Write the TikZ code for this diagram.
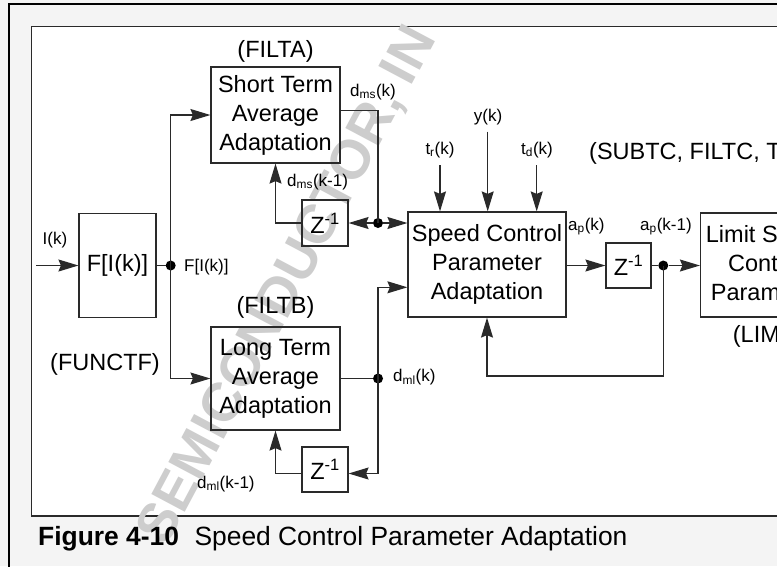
\documentclass[tikz,border=0pt]{standalone}
\usepackage{fontspec}
\setmainfont{Liberation Sans}
\usetikzlibrary{arrows.meta}
\definecolor{lncol}{HTML}{2A2A2A}
\definecolor{bgcol}{HTML}{F4F4F4}
\definecolor{wmcol}{HTML}{CDCDCD}
\begin{document}
\begin{tikzpicture}[x=1pt,y=-1pt,
  ln/.style={draw=lncol,line width=1.2pt},
  arr/.style={ln,-{Stealth[length=20pt,width=12pt,inset=2.5pt]}},
  blk/.style={draw=lncol,line width=1.2pt,inner sep=0pt,align=center,
    font=\fontsize{23.5}{29}\selectfont},
  big/.style={inner sep=0pt,font=\fontsize{23.5}{29}\selectfont},
  lbl/.style={inner sep=0pt,font=\fontsize{17}{20}\selectfont},
  dot/.style={circle,fill=black,inner sep=0pt,minimum size=10pt}]
\useasboundingbox (0,0) rectangle (777,566);
\clip (0,0) rectangle (777,566);
% background and frames
\fill[bgcol] (0,0) rectangle (777,566);
\draw[black,line width=2pt] (9,600) -- (9,3.7) -- (800,3.7);
\draw[draw=lncol,line width=1.4pt,fill=white] (31.5,26.7) rectangle (800,516);
% watermark
\node[rotate=62,text=wmcol,anchor=base west,inner sep=0pt,
  font=\fontsize{55}{55}\selectfont\bfseries] (wm) at (166,548) {SEMICONDUCTOR, IN};
% blocks
\node[blk,minimum width=77pt,minimum height=104pt] (F) at (117.5,265.5) {F[I(k)]};
\node[blk,minimum width=129pt,minimum height=96pt] (A) at (275.5,115) {Short Term\\Average\\Adaptation};
\node[blk,minimum width=129pt,minimum height=103pt] (B) at (275.5,378.5) {Long Term\\Average\\Adaptation};
\node[blk,minimum width=46pt,minimum height=46pt] (Zt) at (325,223) {Z\textsuperscript{-1}};
\node[blk,minimum width=46pt,minimum height=45pt] (Zb) at (325,469.5) {Z\textsuperscript{-1}};
\node[blk,minimum width=158pt,minimum height=105pt] (S) at (487,264.5) {Speed Control\\Parameter\\Adaptation};
\node[blk,minimum width=45pt,minimum height=45pt] (Zr) at (628.5,265.5) {Z\textsuperscript{-1}};
\node[draw=lncol,line width=1.2pt,inner sep=0pt,minimum width=110pt,minimum height=104pt] (L) at (755.5,265) {};
% limit block text (cut by the edge)
\node[big,anchor=base west] (l1) at (705.7,242) {Limit Sp};
\node[big,anchor=base west] (l2) at (728,271) {Cont};
\node[big,anchor=base west] (l3) at (710.7,300) {Param};
\node[big,anchor=base west] (l4) at (732.7,342.5) {(LIM};
% big labels
\node[big,anchor=base] (fa) at (275.5,57) {(FILTA)};
\node[big,anchor=base] (fb) at (275.5,313.5) {(FILTB)};
\node[big,anchor=base] (ff) at (105,370) {(FUNCTF)};
\node[big,anchor=base west] (fs) at (589,159) {(SUBTC, FILTC, T};
% junctions
\node[dot] (jF) at (170.7,265.5) {};
\node[dot] (j1) at (378,223) {};
\node[dot] (j2) at (378,378.5) {};
\node[dot] (j3) at (663.3,265.5) {};
% coordinates
\coordinate (iin) at (36,265.5);
\coordinate (k1) at (378,110.7);
\coordinate (k2) at (378,287.3);
\coordinate (k3) at (378,473.5);
\coordinate (k4) at (663.3,376);
\coordinate (tr) at (440,165);
\coordinate (ty) at (487.7,131.7);
\coordinate (td) at (536.7,165);
% connectors
\draw[arr] (iin) -- (F);
\draw[ln] (F) -- (jF);
\draw[arr] (jF.center) |- (A);
\draw[arr] (jF.center) |- (B);
\draw[ln] (A.east |- k1) -- (k1) -- (j1.center);
\draw[arr] (j1) -- (Zt);
\draw[arr] (j1) -- (j1 -| S.west);
\draw[arr] (Zt.west) -| (A.south);
\draw[ln] (B) -- (j2);
\draw[arr] (j2.center) -- (k2) -- (k2 -| S.west);
\draw[arr] (j2.center) -- (k3) -- (k3 -| Zb.east);
\draw[arr] (Zb.west |- k3) -| (B.south);
\draw[arr] (tr) -- (tr |- S.north);
\draw[arr] (ty) -- (ty |- S.north);
\draw[arr] (td) -- (td |- S.north);
\draw[arr] (S.east |- Zr) -- (Zr);
\draw[ln] (Zr) -- (j3);
\draw[arr] (j3) -- (j3 -| L.west);
\draw[arr] (j3.center) -- (k4) -| (S.south);
% small labels
\node[lbl,anchor=base] (lik) at (55,244.5) {I(k)};
\node[lbl,anchor=base west] (lfi) at (184,271.5) {F[I(k)]};
\node[lbl,anchor=base west] (ldms) at (350,96) {d\textsubscript{ms}(k)};
\node[lbl,anchor=base west] (ldms1) at (287,186) {d\textsubscript{ms}(k-1)};
\node[lbl,anchor=base west] (ldml) at (393,381.5) {d\textsubscript{ml}(k)};
\node[lbl,anchor=base west] (ldml1) at (197,488) {d\textsubscript{ml}(k-1)};
\node[lbl,anchor=base] (ltr) at (440,154) {t\textsubscript{r}(k)};
\node[lbl,anchor=base] (lty) at (488,121.5) {y(k)};
\node[lbl,anchor=base] (ltd) at (537,154) {t\textsubscript{d}(k)};
\node[lbl,anchor=base west] (lap) at (568,230) {a\textsubscript{p}(k)};
\node[lbl,anchor=base west] (lap1) at (640,230) {a\textsubscript{p}(k-1)};
% caption
\node[inner sep=0pt,anchor=base west,font=\fontsize{26.4}{30}\selectfont] (cap) at (38,545)
  {\textbf{Figure 4-10}\hspace{15.5pt}Speed Control Parameter Adaptation};
\end{tikzpicture}
\end{document}
